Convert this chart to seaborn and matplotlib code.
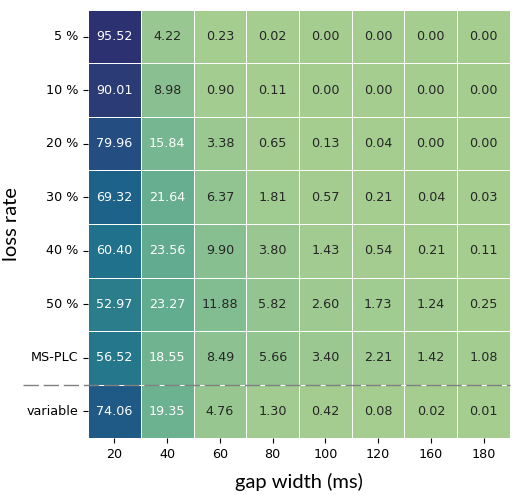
import matplotlib
matplotlib.use("Agg")
import matplotlib.pyplot as plt
import numpy as np
import pandas as pd
import seaborn as sns

gap_widths = [20, 40, 60, 80, 100, 120, 160, 180]
loss_rates = ["5 %", "10 %", "20 %", "30 %", "40 %", "50 %", "MS-PLC", "variable"]

row_5 = [95.52, 4.22, 0.23, 0.02, 0.00, 0.00, 0.00, 0.00]
row_10 = [90.01, 8.98, 0.90, 0.11, 0.00, 0.00, 0.00, 0.00]
row_20 = [79.96, 15.84, 3.38, 0.65, 0.13, 0.04, 0.00, 0.00]
row_30 = [69.32, 21.64, 6.37, 1.81, 0.57, 0.21, 0.04, 0.03]
row_40 = [60.40, 23.56, 9.90, 3.80, 1.43, 0.54, 0.21, 0.11]
row_50 = [52.97, 23.27, 11.88, 5.82, 2.60, 1.73, 1.24, 0.25]
row_msplc = [56.52, 18.55, 8.49, 5.66, 3.40, 2.21, 1.42, 1.08]
row_variable = [74.06, 19.35, 4.76, 1.30, 0.42, 0.08, 0.02, 0.01]

table = pd.DataFrame(
    [row_5, row_10, row_20, row_30, row_40, row_50, row_msplc, row_variable],
    index=loss_rates,
    columns=gap_widths,
)

fig = plt.figure(figsize=(5.12, 4.95), dpi=100)
ax = fig.add_axes([0.172, 0.115, 0.824, 0.865])

sns.heatmap(
    table,
    ax=ax,
    cmap="crest",
    annot=True,
    fmt=".2f",
    annot_kws={"fontsize": 9.2},
    linewidths=0.7,
    linecolor="white",
    cbar=False,
)

ax.tick_params(axis="both", labelsize=9.2)
ax.set_yticklabels(loss_rates, rotation=0)
ax.set_xticklabels(gap_widths, rotation=0)

label_font = {"family": ["Lato", "DejaVu Sans"], "size": 14.5}
ax.set_xlabel("gap width (ms)", fontdict=label_font, labelpad=9)
ax.set_ylabel("loss rate", fontdict=label_font, labelpad=5)

# separator between fixed-rate rows and the variable-loss row
ax.axhline(7, xmin=-0.155, xmax=1.0, color="gray", lw=1.0,
           linestyle=(0, (11, 3.5)), clip_on=False)

fig.savefig("out.png", dpi=100)
